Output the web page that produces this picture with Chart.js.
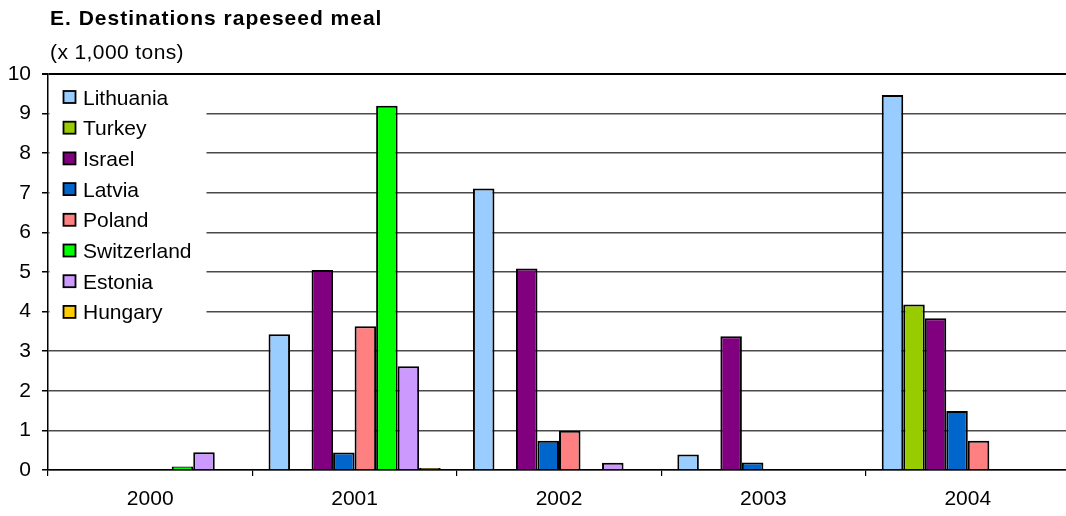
<!DOCTYPE html>
<html>
<head>
<meta charset="utf-8">
<script src="https://cdn.jsdelivr.net/npm/chart.js@4/dist/chart.umd.min.js"></script>
<style>
  html, body { margin: 0; padding: 0; background: #fff; overflow: hidden; }
  #wrap { width: 1070px; height: 516px; }
</style>
</head>
<body>
<div id="wrap"><canvas id="c" width="1070" height="516"></canvas></div>
<script>
// Destinations of rapeseed meal, thousands of tons per year
const years = ['2000', '2001', '2002', '2003', '2004'];
const countries = ['Lithuania', 'Turkey', 'Israel', 'Latvia', 'Poland', 'Switzerland', 'Estonia', 'Hungary'];
const lithuania   = [null, 3.43, 7.11, 0.39, 9.47];
const turkey      = [null, null, null, null, 4.18];
const israel      = [null, 5.05, 5.09, 3.38, 3.83];
const latvia      = [null, 0.44, 0.74, 0.19, 1.49];
const poland      = [null, 3.63, 0.99, null, 0.74];
const switzerland = [0.09, 9.2, null, null, null];
const estonia     = [0.45, 2.62, 0.18, null, null];
const hungary     = [null, 0.05, null, null, null];
const yTicks = [0, 1, 2, 3, 4, 5, 6, 7, 8, 9, 10];

const seriesValues = [lithuania, turkey, israel, latvia, poland, switzerland, estonia, hungary];
const colors = ['#99CCFF', '#99CC00', '#800080', '#0066CC', '#FF8080', '#00FF00', '#CC99FF', '#FFCC00'];

const FONT = '"Liberation Sans", Arial, sans-serif';

const headerAndLegend = {
  id: 'headerAndLegend',
  afterDraw(chart) {
    const ctx = chart.ctx;
    ctx.save();
    // heading
    ctx.fillStyle = '#000';
    ctx.textAlign = 'left';
    ctx.textBaseline = 'alphabetic';
    ctx.font = 'bold 21px ' + FONT;
    ctx.letterSpacing = '1px';
    ctx.fillText('E. Destinations rapeseed meal', 50, 25);
    ctx.font = '21px ' + FONT;
    ctx.letterSpacing = '0.4px';
    ctx.fillText('(x 1,000 tons)', 50, 59);
    ctx.letterSpacing = '0px';

    // legend box inside the plot area
    const area = chart.chartArea;
    ctx.fillStyle = '#fff';
    ctx.fillRect(area.left + 1.5, 77, 157, 254);
    ctx.font = '21px ' + FONT;
    chart.data.datasets.forEach((ds, i) => {
      const cy = 97 + i * 30.7;
      ctx.fillStyle = ds.backgroundColor;
      ctx.fillRect(63.5, cy - 6, 12, 12);
      ctx.lineWidth = 1.8;
      ctx.strokeStyle = '#000';
      ctx.strokeRect(63.5, cy - 6, 12, 12);
      ctx.fillStyle = '#000';
      ctx.fillText(ds.label, 83, cy + 7.5);
    });
    ctx.restore();
  }
};

new Chart(document.getElementById('c'), {
  type: 'bar',
  data: {
    labels: years,
    datasets: countries.map((name, i) => ({
      label: name,
      data: seriesValues[i],
      backgroundColor: colors[i],
      borderColor: '#000',
      borderWidth: 2,
      categoryPercentage: 8 / 9.5,
      barPercentage: 1
    }))
  },
  options: {
    responsive: false,
    animation: false,
    layout: { padding: { top: 74, right: 0, bottom: 0, left: 0 } },
    plugins: {
      legend: { display: false },
      title: { display: false },
      tooltip: { enabled: false }
    },
    scales: {
      x: {
        grid: {
          offset: true,
          drawOnChartArea: false,
          drawTicks: true,
          tickLength: 6,
          tickColor: '#000',
          lineWidth: 1.2
        },
        border: { color: '#000', width: 1.5 },
        ticks: {
          color: '#000',
          font: { family: FONT, size: 21 },
          padding: 11,
          maxRotation: 0
        },
        afterFit(scale) { scale.height = 46; }
      },
      y: {
        min: 0,
        max: 10,
        afterBuildTicks(scale) { scale.ticks = yTicks.map(v => ({ value: v })); },
        grid: {
          color: (c) => (c.tick && c.tick.value === 10 ? '#000' : '#4a4a4a'),
          lineWidth: (c) => (c.tick && c.tick.value === 10 ? 2 : 1.5),
          tickLength: 6,
          tickColor: '#000'
        },
        border: { color: '#000', width: 1.5 },
        ticks: {
          color: '#000',
          font: { family: FONT, size: 21 },
          padding: 11
        },
        afterFit(scale) { scale.width = 48; }
      }
    }
  },
  plugins: [headerAndLegend]
});
</script>
</body>
</html>
